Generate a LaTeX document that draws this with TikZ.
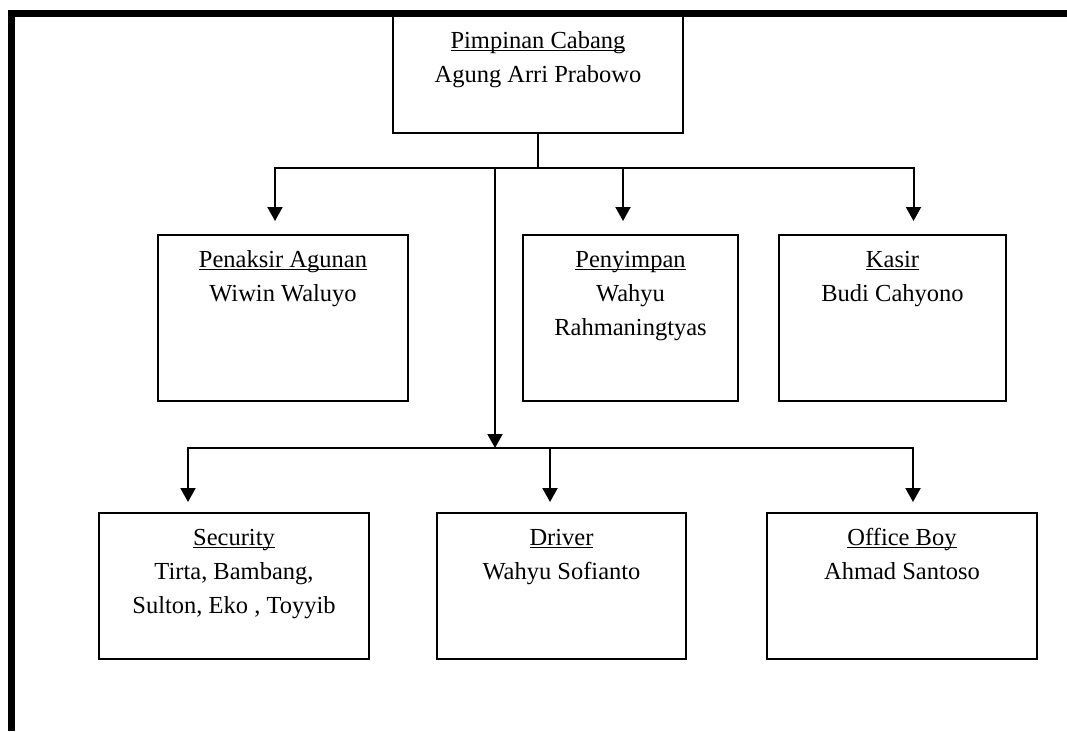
\documentclass[tikz,border=0pt]{standalone}
\usepackage{fontspec}
\setmainfont{Liberation Serif}
\usetikzlibrary{arrows.meta,calc}
\newcommand{\ulin}[1]{\setbox0\hbox{#1}\rlap{\rule[-3.3pt]{\wd0}{1.5pt}}\box0}
\begin{document}
\begin{tikzpicture}[x=1pt,y=-1pt,
  box/.style={draw, line width=2pt, rectangle, inner sep=0pt},
  txt/.style={anchor=base, inner sep=0pt, font=\fontsize{24.5}{34}\selectfont},
  conn/.style={line width=2pt},
  arr/.style={line width=2pt, -{Triangle[length=14pt,width=15pt]}},
  frameline/.style={line width=7pt}]
\useasboundingbox (0,0) rectangle (1067,731);
% frame
\draw[frameline] (11,731) -- (11,13.5) -- (1067,13.5);
% boxes
\node[box, minimum width=290pt, minimum height=117pt] (top) at (538,74.5) {};
\node[box, minimum width=250pt, minimum height=166pt] (pen) at (283,318) {};
\node[box, minimum width=215pt, minimum height=166pt] (sim) at (630.5,318) {};
\node[box, minimum width=227pt, minimum height=166pt] (kas) at (892.5,318) {};
\node[box, minimum width=270pt, minimum height=146pt] (sec) at (234,586) {};
\node[box, minimum width=249pt, minimum height=146pt] (drv) at (561.5,586) {};
\node[box, minimum width=270pt, minimum height=146pt] (ob) at (902,586) {};
% texts
\node[txt] (topa) at ($(top.north)+(0,33)$) {\ulin{Pimpinan Cabang}};
\node[txt] (topb) at ($(top.north)+(0,67)$) {Agung Arri Prabowo};
\node[txt] (pena) at ($(pen.north)+(0,33)$) {\ulin{Penaksir Agunan}};
\node[txt] (penb) at ($(pen.north)+(0,67)$) {Wiwin Waluyo};
\node[txt] (sima) at ($(sim.north)+(0,33)$) {\ulin{Penyimpan}};
\node[txt] (simb) at ($(sim.north)+(0,67)$) {Wahyu};
\node[txt] (simc) at ($(sim.north)+(0,101)$) {Rahmaningtyas};
\node[txt] (kasa) at ($(kas.north)+(0,33)$) {\ulin{Kasir}};
\node[txt] (kasb) at ($(kas.north)+(0,67)$) {Budi Cahyono};
\node[txt] (seca) at ($(sec.north)+(0,33)$) {\ulin{Security}};
\node[txt] (secb) at ($(sec.north)+(0,67)$) {Tirta, Bambang,};
\node[txt] (secc) at ($(sec.north)+(0,101)$) {Sulton, Eko , Toyyib};
\node[txt] (drva) at ($(drv.north)+(0,33)$) {\ulin{Driver}};
\node[txt] (drvb) at ($(drv.north)+(0,67)$) {Wahyu Sofianto};
\node[txt] (oba) at ($(ob.north)+(0,33)$) {\ulin{Office Boy}};
\node[txt] (obb) at ($(ob.north)+(0,67)$) {Ahmad Santoso};
% connectors
\draw[conn] (top.south) -- ++(0,34) coordinate (j1);
\coordinate (j2) at (495,448);
\draw[arr, shorten >=13pt] (j1) -| ($(pen.north)+(-8,0)$);
\draw[arr, shorten >=13pt] (j1) -| ($(sim.north)+(-7.5,0)$);
\draw[arr, shorten >=13pt] (j1) -| ($(kas.north)+(21,0)$);
\draw[arr] (j1 -| j2) -- (j2);
\draw[arr, shorten >=10pt] (j2) -| ($(sec.north)+(-46,0)$);
\draw[arr, shorten >=10pt] (j2) -| ($(drv.north)+(-11.5,0)$);
\draw[arr, shorten >=10pt] (j2) -| ($(ob.north)+(11,0)$);
\end{tikzpicture}
\end{document}
